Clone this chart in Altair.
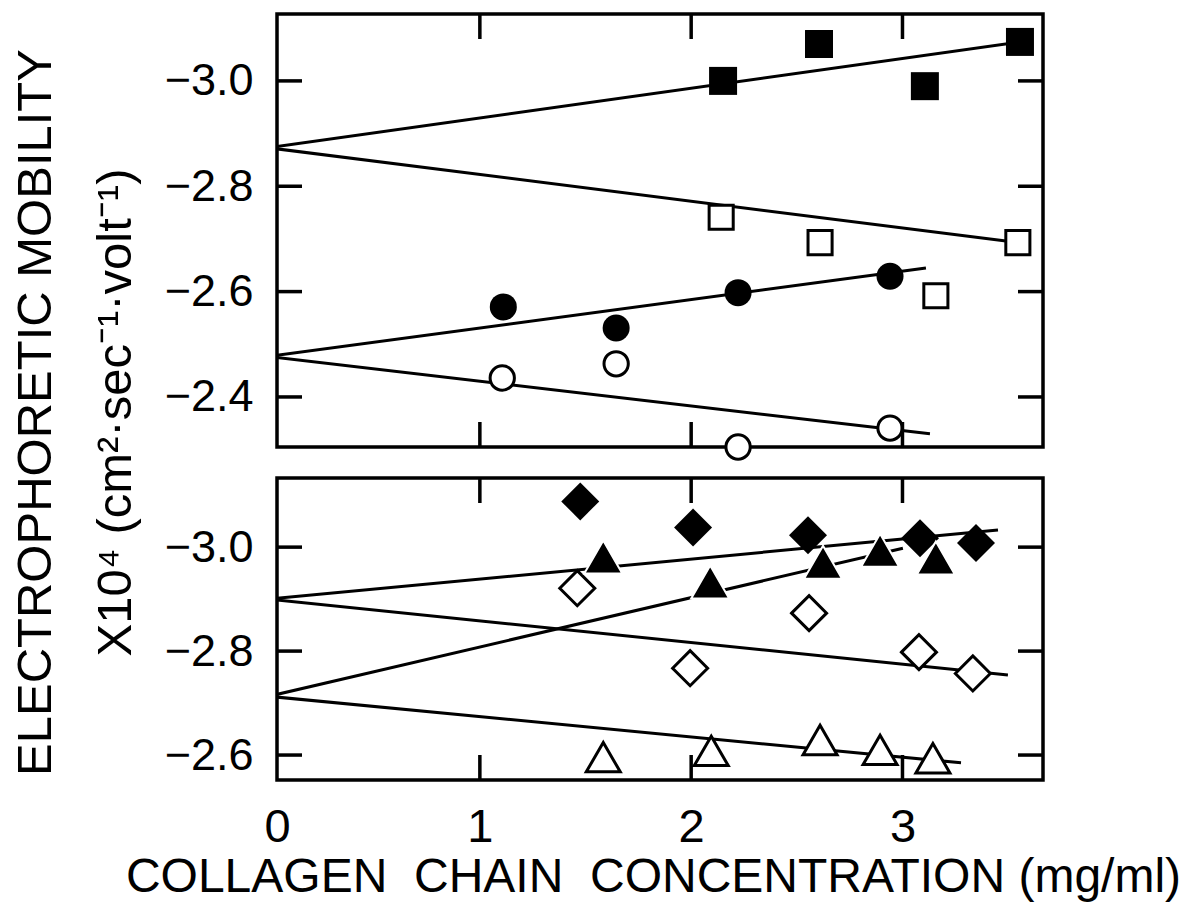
import altair as alt
import pandas as pd

# ---------------- data ----------------
x_tick_vals = [0.04, 1, 2, 3]       # first value sits at the left frame, labelled "0"
x_inner_ticks = [1, 2, 3]
top_y_ticks = [-3.0, -2.8, -2.6, -2.4]
bot_y_ticks = [-3.0, -2.8, -2.6]

# top panel
fsq_x = [2.151, 2.605, 3.106, 3.556]
fsq_y = [-3.000, -3.070, -2.990, -3.074]
osq_x = [2.142, 2.610, 3.158, 3.546]
osq_y = [-2.741, -2.693, -2.592, -2.693]
fci_x = [1.111, 1.645, 2.222, 2.941]
fci_y = [-2.571, -2.531, -2.598, -2.629]
oci_x = [1.106, 1.645, 2.222, 2.941]
oci_y = [-2.436, -2.463, -2.305, -2.341]

# fitted lines (start, end)
fsq_fit_x = [0.0, 3.556]
fsq_fit_y = [-2.873, -3.074]
osq_fit_x = [0.0, 3.546]
osq_fit_y = [-2.873, -2.693]
fci_fit_x = [0.0, 3.111]
fci_fit_y = [-2.477, -2.645]
oci_fit_x = [0.0, 3.130]
oci_fit_y = [-2.477, -2.330]

# bottom panel
fdi_x = [1.475, 2.009, 2.553, 3.083, 3.348]
fdi_y = [-3.088, -3.038, -3.023, -3.017, -3.008]
ftr_x = [1.584, 2.090, 2.624, 2.894, 3.158]
ftr_y = [-2.981, -2.933, -2.971, -2.994, -2.979]
odi_x = [1.461, 1.995, 2.558, 3.078, 3.333]
odi_y = [-2.921, -2.767, -2.873, -2.798, -2.757]
otr_x = [1.584, 2.095, 2.610, 2.894, 3.144]
otr_y = [-2.596, -2.608, -2.629, -2.610, -2.594]

fdi_fit_x = [0.0, 3.452]
fdi_fit_y = [-2.900, -3.033]
odi_fit_x = [0.0, 3.499]
odi_fit_y = [-2.900, -2.754]
ftr_fit_x = [0.0, 3.002]
ftr_fit_y = [-2.713, -2.998]
otr_fit_x = [0.0, 3.277]
otr_fit_y = [-2.713, -2.585]

x_domain = [0.04, 3.665]
top_y_domain = [-3.127, -2.305]
bot_y_domain = [-3.133, -2.552]

y_title = ["ELECTROPHORETIC MOBILITY", "X10\u2074 (cm\u00b2\u00b7sec\u207b\u00b9\u00b7volt\u207b\u00b9)"]
x_title = "COLLAGEN\u00a0 CHAIN\u00a0 CONCENTRATION (mg/ml)"

# ---------------- layout / style ----------------
W = 766
H_TOP = 433
H_BOT = 302
FONT = "Liberation Sans"
TICK_LEN = 25
TICK_W = 3.5
LINE_W = 3


def make_x(show_axis):
    if show_axis:
        ax = alt.Axis(values=x_tick_vals, labelExpr="format(round(datum.value), 'd')",
                      labelFlush=False, labelOverlap=False,
                      title=x_title, labelFont=FONT, titleFont=FONT,
                      labelFontSize=47, labelPadding=24, labelFontWeight="normal",
                      titleFontSize=48, titlePadding=3, titleX=376,
                      titleFontWeight="normal", labelColor="black", titleColor="black",
                      domain=False, ticks=False, grid=False)
    else:
        ax = None
    return alt.X("x:Q", scale=alt.Scale(domain=x_domain, nice=False, zero=False),
                 axis=ax)


def make_y(domain, ticks, title):
    kw = dict(values=ticks, format=".1f", labelFontSize=45, labelPadding=24,
              labelFont=FONT, labelFontWeight="normal", labelColor="black",
              domain=False, ticks=False, grid=False)
    if title is not None:
        kw.update(title=title, titleFont=FONT, titleFontSize=49, titleFontWeight="normal",
                  titleColor="black", titleX=-227, titleY=398,
                  titleAngle=270, titleAlign="center", titleBaseline="alphabetic",
                  titleLineHeight=80)
    else:
        kw.update(title=None)
    return alt.Y("y:Q", scale=alt.Scale(domain=domain, reverse=True, nice=False, zero=False),
                 axis=alt.Axis(**kw))


def panel(series_lines, series_pts, ydom, yticks, H, show_x, ytitle):
    X = make_x(show_x)
    Y = make_y(ydom, yticks, ytitle)
    layers = []
    for lx, ly in series_lines:
        df = pd.DataFrame({"x": lx, "y": ly})
        layers.append(alt.Chart(df).mark_line(color="black", strokeWidth=LINE_W, clip=True)
                      .encode(x=X, y=Y))
    for px, py, shape, fill, stroke, sw, size in series_pts:
        df = pd.DataFrame({"x": px, "y": py})
        layers.append(alt.Chart(df).mark_point(shape=shape, filled=True, fill=fill,
                                               stroke=stroke, strokeWidth=sw, size=size,
                                               opacity=1)
                      .encode(x=X, y=Y))
    # inward ticks on all four sides
    dfy = pd.DataFrame({"y": yticks})
    layers.append(alt.Chart(dfy).mark_rule(color="black", strokeWidth=TICK_W)
                  .encode(y=Y, x=alt.value(0), x2=alt.value(TICK_LEN)))
    layers.append(alt.Chart(dfy).mark_rule(color="black", strokeWidth=TICK_W)
                  .encode(y=Y, x=alt.value(W - TICK_LEN), x2=alt.value(W)))
    dfx = pd.DataFrame({"x": x_inner_ticks})
    layers.append(alt.Chart(dfx).mark_rule(color="black", strokeWidth=TICK_W)
                  .encode(x=X, y=alt.value(0), y2=alt.value(TICK_LEN)))
    layers.append(alt.Chart(dfx).mark_rule(color="black", strokeWidth=TICK_W)
                  .encode(x=X, y=alt.value(H - TICK_LEN), y2=alt.value(H)))
    return alt.layer(*layers).properties(width=W, height=H)


top = panel(
    [(fsq_fit_x, fsq_fit_y), (osq_fit_x, osq_fit_y), (fci_fit_x, fci_fit_y), (oci_fit_x, oci_fit_y)],
    [
        (fsq_x, fsq_y, "square", "black", "black", 0, 784),
        (osq_x, osq_y, "square", "white", "black", 3, 580),
        (fci_x, fci_y, "circle", "black", "black", 0, 729),
        (oci_x, oci_y, "circle", "white", "black", 3, 590),
    ],
    top_y_domain, top_y_ticks, H_TOP, False, y_title)

bottom = panel(
    [(fdi_fit_x, fdi_fit_y), (odi_fit_x, odi_fit_y), (ftr_fit_x, ftr_fit_y), (otr_fit_x, otr_fit_y)],
    [
        (odi_x, odi_y, "diamond", "white", "black", 3, 1225),
        (otr_x, otr_y, "triangle-up", "white", "black", 3, 1156),
        (fdi_x, fdi_y, "diamond", "black", "black", 0, 1444),
        (ftr_x, ftr_y, "triangle-up", "black", "white", 2, 1444),
    ],
    bot_y_domain, bot_y_ticks, H_BOT, True, None)

chart = (
    alt.vconcat(top, bottom, spacing=31, bounds="flush")
    .properties(padding={"left": 1, "top": 2, "right": 0, "bottom": 0},
                background="white")
    .configure_view(stroke="black", strokeWidth=3.5)
    .configure_axis(domain=False, ticks=False, grid=False,
                    labelFont=FONT, titleFont=FONT, labelColor="black", titleColor="black",
                    titleFontWeight="normal", labelFontWeight="normal")
)

chart.save("out.html", embed_options={"renderer": "svg", "actions": False})
